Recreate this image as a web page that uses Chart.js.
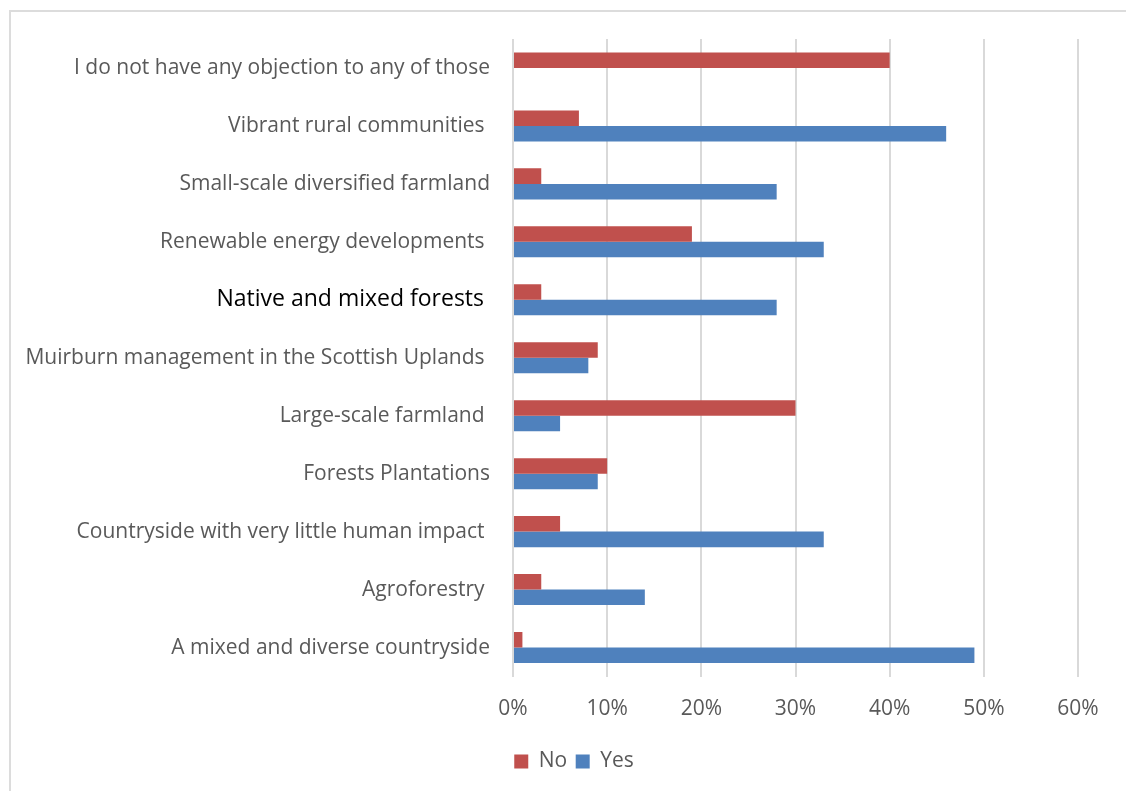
<!DOCTYPE html>
<html>
<head>
<meta charset="utf-8">
<script src="https://cdn.jsdelivr.net/npm/chart.js@4"></script>
<style>
  html, body { margin: 0; padding: 0; background: #fff; overflow: hidden; }
  #frame {
    position: absolute; left: 9px; top: 10px; width: 1200px; height: 900px;
    border-left: 2px solid #dcdcdc; border-top: 2px solid #dcdcdc;
  }
  #wrap { position: absolute; left: 0; top: 0; width: 1126px; height: 791px; }
</style>
</head>
<body>
<div id="frame"></div>
<div id="wrap"><canvas id="myChart"></canvas></div>
<script>
const labels = [
  'I do not have any objection to any of those',
  'Vibrant rural communities ',
  'Small-scale diversified farmland',
  'Renewable energy developments ',
  'Native and mixed forests ',
  'Muirburn management in the Scottish Uplands ',
  'Large-scale farmland ',
  'Forests Plantations',
  'Countryside with very little human impact ',
  'Agroforestry ',
  'A mixed and diverse countryside'
];
const noData  = [40, 7, 3, 19, 3, 9, 30, 10, 5, 3, 1];
const yesData = [null, 46, 28, 33, 28, 8, 5, 9, 33, 14, 49];
const xTicks = [0, 10, 20, 30, 40, 50, 60];

// this one label is set in a bigger, darker font
const darkLabel = 'Native and mixed forests ';

const fontFamily = "'Open Sans', 'Noto Sans', sans-serif";
const textGrey = '#595959';

// nudge the legend row to the right, under the plot
const legendShift = {
  id: 'legendShift',
  afterLayout(chart) {
    chart.legend.left += 25;
    chart.legend.right += 25;
  }
};

const data = {
  labels: labels,
  datasets: [
    {
      label: 'No',
      data: noData,
      backgroundColor: '#C0504D',
      categoryPercentage: 0.536,
      barPercentage: 1.0
    },
    {
      label: 'Yes',
      data: yesData,
      backgroundColor: '#4F81BD',
      categoryPercentage: 0.536,
      barPercentage: 1.0
    }
  ]
};

const config = {
  type: 'bar',
  data: data,
  plugins: [legendShift],
  options: {
    indexAxis: 'y',
    responsive: true,
    maintainAspectRatio: false,
    animation: false,
    layout: {
      padding: { left: 20, right: 48, top: 39, bottom: 9 }
    },
    plugins: {
      legend: {
        position: 'bottom',
        labels: {
          boxWidth: 14,
          boxHeight: 14,
          padding: 8.5,
          color: textGrey,
          font: { family: fontFamily, size: 21 }
        }
      },
      tooltip: { enabled: false }
    },
    scales: {
      x: {
        min: 0,
        max: 60,
        afterBuildTicks: function(scale) {
          scale.ticks = xTicks.map(v => ({ value: v }));
        },
        grid: { color: '#d9d9d9', lineWidth: 2, drawTicks: false },
        border: { display: false },
        ticks: {
          padding: 20.4,
          color: textGrey,
          font: { family: fontFamily, size: 21 },
          callback: function(value) { return value + '%'; }
        }
      },
      y: {
        grid: { display: false },
        border: { display: false },
        afterFit: function(scale) {
          scale.width = 493;
        },
        ticks: {
          padding: 15,
          color: function(ctx) {
            return labels[ctx.index] === darkLabel ? '#000000' : textGrey;
          },
          font: function(ctx) {
            const big = labels[ctx.index] === darkLabel;
            return { family: fontFamily, size: big ? 23 : 21 };
          }
        }
      }
    }
  }
};

const myChart = new Chart(document.getElementById('myChart'), config);
</script>
</body>
</html>
